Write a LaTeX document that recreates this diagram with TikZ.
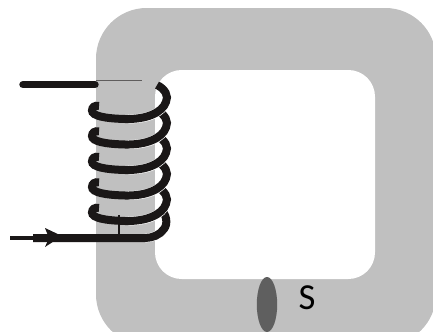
\documentclass[tikz,border=0pt]{standalone}
\usepackage{fontspec}
\setmainfont{Carlito}
\definecolor{core}{HTML}{C0C0C0}
\definecolor{wire}{HTML}{1A1717}
\definecolor{gap}{HTML}{5F5F5F}
\tikzset{
  wirepath/.style={draw=wire,line width=6pt},
  casing/.style={draw=white,line width=6.7pt},
}
\begin{document}
\begin{tikzpicture}[x=0.75pt,y=-0.75pt]
\useasboundingbox (0,0) rectangle (433,332);
\begin{scope}
\clip (0,0) rectangle (433,332);
\fill[white] (0,0) rectangle (433,332);
\fill[core,rounded corners=38pt] (96,8) -- (436,8) -- (436,345) -- (96,345) -- cycle;
\fill[white,rounded corners=20pt] (155,70) -- (375,70) -- (375,279) -- (155,279) -- cycle;
\fill[gap] (267,304.5) ellipse[x radius=10.2,y radius=27.5];
\end{scope}
\node[font=\fontsize{27.5pt}{30pt}\selectfont,text=black,inner sep=0pt] (s) at (307,298) {S};
% leads
\draw[wire!70,line width=0.6pt] (96,80.5) -- (142,80.5);
\draw[wire,line width=5.6pt,line cap=round] (23,84.7) -- (95,84.7);
\draw[wire,line width=3pt] (10,238) -- (40,238);
\draw[wire,line width=1.5pt] (119,215) -- (119,238);
% last lobe into the lower lead
\draw[casing] (160,209) .. controls (167,214) and (168,224) .. (164,229) .. controls (160,235) and (152,238) .. (145,238);
\draw[wirepath] (160,209) .. controls (167,214) and (168,224) .. (164,229) .. controls (160,235) and (152,238) .. (145,238) -- (33,238);
\fill[wire] (62,236) -- (45,228) -- (49,238) -- (45,247) -- cycle;
% turns, from the lowest up
\foreach \d in {102,76.5,51,25.5,0} {
  \begin{scope}[yshift=-0.75*\d pt]
    \draw[casing] (157,85) .. controls (165,89) and (169,96) .. (166,102) .. controls (162,113) and (148,119) .. (128,119);
    \draw[wirepath] (157,85) .. controls (165,89) and (169,96) .. (166,102) .. controls (162,113) and (146,119.5) .. (125,119) .. controls (105,118.5) and (92,116) .. (92,110.5) .. controls (92,107) and (95,105) .. (99,106);
  \end{scope}
}
\end{tikzpicture}
\end{document}
